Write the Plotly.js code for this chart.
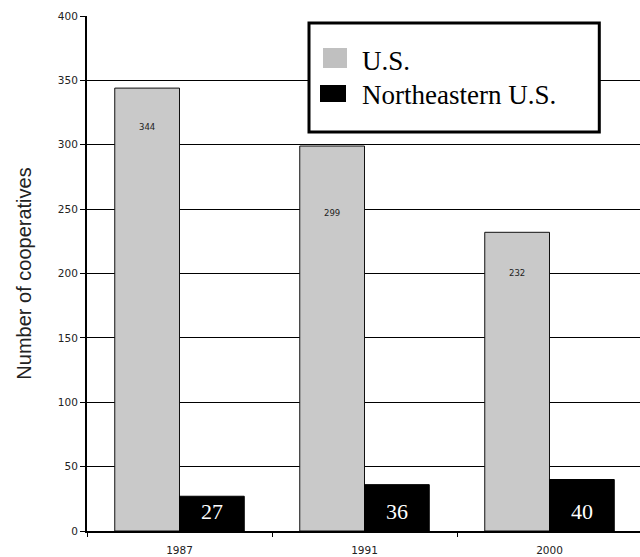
<!DOCTYPE html>
<html>
<head>
<meta charset="utf-8">
<script src="https://cdn.plot.ly/plotly-3.0.1.min.js"></script>
<style>
html, body { margin: 0; padding: 0; overflow: hidden; background: #fff; }
#chart { width: 642px; height: 557px; }
</style>
</head>
<body>
<div id="chart"></div>
<script>
// ---- data ----
var years = ['1987', '1991', '2000'];
var usValues = [344, 299, 232];
var neValues = [27, 36, 40];
var seriesNames = ['U.S.', 'Northeastern U.S.'];
var yTitle = 'Number of cooperatives';

// ---- layout constants ----
var W = 642, H = 557;
var M = { l: 87, r: 0, t: 16, b: 26 };
var PW = W - M.l - M.r, PH = H - M.t - M.b;
var BARGAP = 0.3;
var usLabelShift = [-39, -67, -41];
function px(x) { return (x - M.l) / PW; }
function py(y) { return (M.t + PH - y) / PH; }

var half = (1 - BARGAP) / 4;

var traces = [
  {
    type: 'bar', name: seriesNames[0], x: years, y: usValues,
    marker: { color: '#c9c9c9', line: { color: '#111', width: 1 } },
    hoverinfo: 'x+y+name'
  },
  {
    type: 'bar', name: seriesNames[1], x: years, y: neValues,
    marker: { color: '#000', line: { color: '#000', width: 1 } },
    hoverinfo: 'x+y+name'
  }
];

var annotations = [];
years.forEach(function (yr, i) {
  annotations.push({
    x: i - half, y: usValues[i], xref: 'x', yref: 'y',
    text: String(usValues[i]), showarrow: false,
    yshift: usLabelShift[i], xanchor: 'center', yanchor: 'middle',
    font: { family: 'DejaVu Sans, sans-serif', size: 8.5, color: '#222' }
  });
  annotations.push({
    x: i + half, y: 0, xref: 'x', yref: 'y',
    text: String(neValues[i]), showarrow: false,
    yshift: 20, xanchor: 'center', yanchor: 'middle',
    font: { family: 'Liberation Serif, serif', size: 22, color: '#fff' }
  });
});

// legend drawn as a boxed key
annotations.push({
  x: px(360), y: py(61), xref: 'paper', yref: 'paper',
  text: seriesNames[0], showarrow: false, xanchor: 'left', yanchor: 'middle',
  font: { family: 'Liberation Serif, serif', size: 27, color: '#000' }
});
annotations.push({
  x: px(360), y: py(95), xref: 'paper', yref: 'paper',
  text: seriesNames[1], showarrow: false, xanchor: 'left', yanchor: 'middle',
  font: { family: 'Liberation Serif, serif', size: 27, color: '#000' }
});

var shapes = [
  { type: 'rect', xref: 'paper', yref: 'paper',
    x0: px(309), x1: px(599.3), y0: py(23), y1: py(132),
    fillcolor: '#fff', line: { color: '#000', width: 3 }, layer: 'above' },
  { type: 'rect', xref: 'paper', yref: 'paper',
    x0: px(323), x1: px(347), y0: py(48), y1: py(68),
    fillcolor: '#c0c0c0', line: { width: 0 }, layer: 'above' },
  { type: 'rect', xref: 'paper', yref: 'paper',
    x0: px(320), x1: px(346), y0: py(85), y1: py(102),
    fillcolor: '#000', line: { width: 0 }, layer: 'above' }
];

var layout = {
  width: W, height: H,
  margin: M,
  paper_bgcolor: '#fff', plot_bgcolor: '#fff',
  showlegend: false,
  barmode: 'group', bargap: BARGAP, bargroupgap: 0,
  xaxis: {
    type: 'category',
    showline: true, linecolor: '#000', linewidth: 1.5,
    ticks: 'outside', tickson: 'boundaries', ticklen: 4, tickcolor: '#000', tickwidth: 1,
    showgrid: false, zeroline: false,
    ticklabelstandoff: 9,
    tickfont: { family: 'DejaVu Sans, sans-serif', size: 10.5, color: '#222' }
  },
  yaxis: {
    range: [0, 400], dtick: 50, tick0: 0,
    showline: true, linecolor: '#000', linewidth: 2,
    ticks: 'outside', ticklen: 5, tickcolor: '#000', tickwidth: 1,
    showgrid: true, gridcolor: '#000', gridwidth: 1,
    zeroline: false,
    tickfont: { family: 'DejaVu Sans, sans-serif', size: 10.5, color: '#222' },
    title: { text: yTitle, standoff: 21,
      font: { family: 'Liberation Sans, Arial, sans-serif', size: 20, color: '#222' } }
  },
  annotations: annotations,
  shapes: shapes
};

Plotly.newPlot('chart', traces, layout, { displayModeBar: false, staticPlot: true });
</script>
</body>
</html>
